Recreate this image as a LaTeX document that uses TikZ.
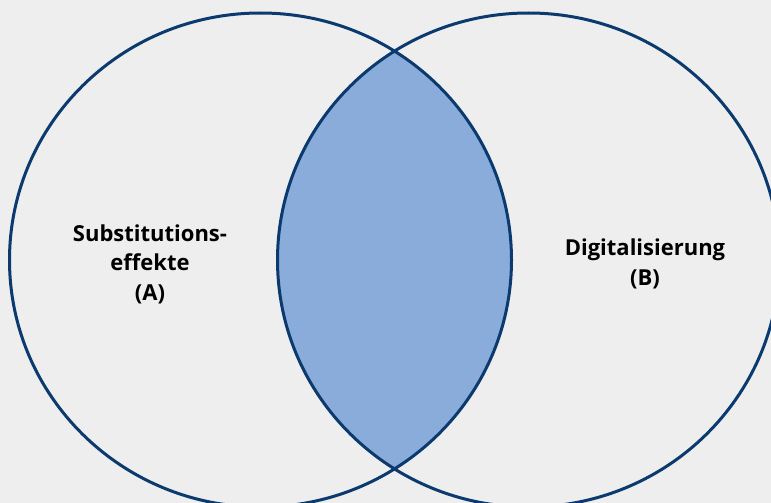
\documentclass[tikz,border=0pt]{standalone}
\usepackage{fontspec}
\setmainfont{Open Sans}
\usepackage{tikz}
\definecolor{rand}{HTML}{0B3A6E}
\definecolor{schnitt}{HTML}{8AACDA}
\definecolor{grund}{HTML}{EEEEEE}
\newcommand{\rx}{251pt}
\newcommand{\ry}{247pt}

\begin{document}
\begin{tikzpicture}[x=1pt,y=-1pt,
    mengtext/.style={font=\bfseries\fontsize{22}{29.5}\selectfont, align=center, inner sep=0pt}]

      %% background and frame of the picture
      \fill[grund] (0,0) rectangle (771,503);
      \useasboundingbox (0,0) rectangle (771,503);

      \coordinate (mA) at (260.5,260);
      \coordinate (mB) at (528.5,260);

      %% the shaded overlap of A and B
      \begin{scope}
        \clip (mA) ellipse [x radius=\rx, y radius=\ry];
        \fill[schnitt] (mB) ellipse [x radius=\rx, y radius=\ry];
      \end{scope}
      \foreach \m in {mA,mB}
      { \draw[rand, line width=3pt] (\m) ellipse [x radius=\rx, y radius=\ry];}

      \node (A) at (150,264) [mengtext] {Substitutions-\\effekte\\(A)};
      \node (B) at (645,264) [mengtext] {Digitalisierung\\(B)};

\end{tikzpicture}
\end{document}
